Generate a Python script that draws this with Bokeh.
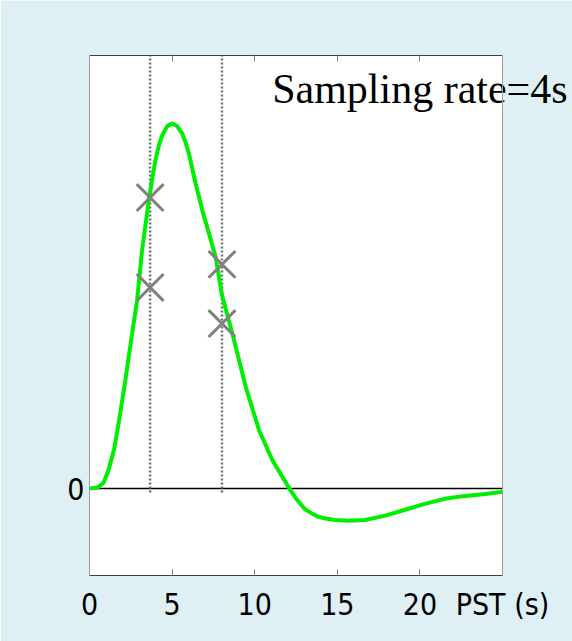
from bokeh.plotting import figure
from bokeh.models import Range1d, LinearAxis, FixedTicker, BoxAnnotation, Span
from bokeh.embed import file_html
from bokeh.resources import INLINE

# ---- data ----
t = [0, 0.5, 0.85, 1.15, 1.5, 1.76, 2.17, 2.5, 2.88, 3.18, 3.59, 3.8, 3.99, 4.2, 4.4,
     4.7, 5.0, 5.3, 5.61, 5.8, 6.02, 6.2, 6.42, 6.83, 7.23, 7.64, 8.02, 8.65, 9.46,
     10.27, 11.08, 12.1, 12.55, 13.03, 13.45, 13.84, 14.3, 14.85, 15.66, 16.68, 17.9,
     19.1, 20.3, 21.5, 22.75, 23.97, 25.0]
hrf = [0, 0.003, 0.016, 0.05, 0.11, 0.178, 0.296, 0.40, 0.515, 0.652, 0.789, 0.85,
       0.899, 0.94, 0.967, 0.992, 1.0, 0.993, 0.973, 0.95, 0.918, 0.88, 0.836, 0.762,
       0.699, 0.633, 0.53, 0.424, 0.278, 0.159, 0.077, 0.0, -0.03, -0.056, -0.068,
       -0.077, -0.082, -0.086, -0.088, -0.086, -0.074, -0.058, -0.042, -0.028, -0.02,
       -0.015, -0.009]
sample_t = [3.67, 8.02]
cross_t = [3.67, 3.67, 8.02, 8.02]
cross_y = [0.797, 0.551, 0.614, 0.452]
xticks = [0, 5, 10, 15, 20]
top_ticks = [5, 10, 15, 20]
yticks = [0]
title_text = "Sampling rate=4s"
title_at = 20          # top tick under whose position the note is centred
xlabel_text = "PST (s)"
xlabel_at = 25         # x position whose bottom label carries the axis name

FONT = "'Liberation Sans Narrow', 'DejaVu Sans Condensed', sans-serif"
BG = "#dff0f4"

p = figure(width=572, height=641, x_range=Range1d(0, 25), y_range=Range1d(-0.238, 1.186),
           output_backend="svg", toolbar_location=None,
           x_axis_location=None, y_axis_location=None,
           min_border_left=89, min_border_right=70, min_border_top=55, min_border_bottom=66,
           border_fill_color=BG, background_fill_color="white", outline_line_color=None)
p.xgrid.visible = False
p.ygrid.visible = False

# white panel
panel = BoxAnnotation(left=20, right=552, top=7, bottom=641,
                      left_units="canvas", right_units="canvas",
                      top_units="canvas", bottom_units="canvas",
                      fill_color="white", fill_alpha=1, line_color=None, level="underlay")
p.add_layout(panel)

bottom_labels = {v: str(v) for v in xticks}
bottom_labels[xlabel_at] = xlabel_text
below = LinearAxis(ticker=FixedTicker(ticks=xticks + [xlabel_at]),
                   major_label_overrides=bottom_labels,
                   major_tick_in=6, major_tick_out=0,
                   minor_tick_line_color=None, axis_line_color="#404040",
                   major_tick_line_color="#808080", major_label_standoff=11,
                   major_label_text_font=FONT, major_label_text_font_size="30px",
                   major_label_text_color="black")
top_labels = {v: "" for v in top_ticks}
top_labels[title_at] = title_text
above = LinearAxis(ticker=FixedTicker(ticks=top_ticks), major_label_overrides=top_labels,
                   major_tick_in=6, major_tick_out=0,
                   minor_tick_line_color=None, axis_line_color="#404040",
                   major_tick_line_color="#808080", major_label_standoff=-56,
                   major_label_text_font="Liberation Serif",
                   major_label_text_font_size="42px", major_label_text_color="black")
left = LinearAxis(ticker=FixedTicker(ticks=yticks), major_tick_in=0, major_tick_out=0,
                  major_tick_line_color=None, minor_tick_line_color=None,
                  axis_line_color="#a0a0a0", major_label_standoff=5,
                  major_label_text_font=FONT, major_label_text_font_size="30px",
                  major_label_text_color="black")
right = LinearAxis(ticker=FixedTicker(ticks=[]), major_tick_in=0, major_tick_out=0,
                   major_tick_line_color=None, minor_tick_line_color=None,
                   axis_line_color="#a0a0a0", major_label_text_color=None,
                   major_label_text_font_size="1px")
p.add_layout(below, "below")
p.add_layout(above, "above")
p.add_layout(left, "left")
p.add_layout(right, "right")

zero = Span(location=0, dimension="width", line_color="black", line_width=1.5, level="underlay")
p.add_layout(zero)

p.segment(x0=sample_t, y0=[-0.011] * len(sample_t), x1=sample_t, y1=[1.186] * len(sample_t),
          line_color="#707070", line_width=2.5, line_dash="2 2")
p.line(t, hrf, line_color="#00ee00", line_width=4, line_join="round", line_cap="round")
p.scatter(cross_t, cross_y, marker="x", size=38, line_color="#808080", line_width=3)

open("out.html", "w").write(file_html(p, INLINE))
